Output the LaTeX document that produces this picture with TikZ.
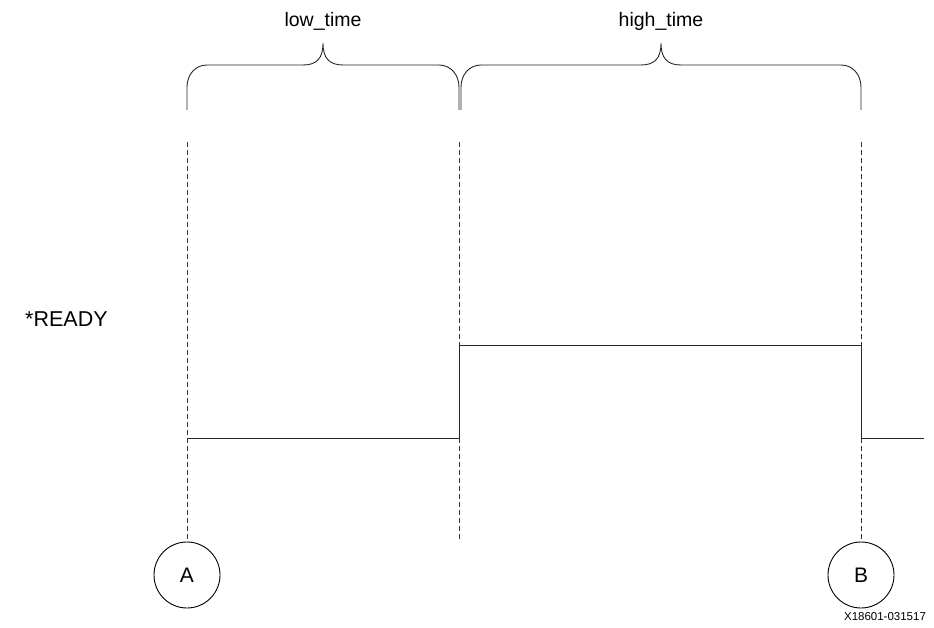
\documentclass[tikz,border=0pt]{standalone}
\usepackage{fontspec}
\setmainfont{Liberation Sans}
\usepackage{tikz}
\usetikzlibrary{positioning,calc}
\tikzset{
    wave/.style   = {line width=0.9pt, draw=black!85},
    guide/.style  = {line width=0.8pt, draw=black!80, dash pattern=on 5pt off 3pt},
    span/.style   = {line width=0.9pt, draw=black!85},
    label/.style  = {inner sep=0pt, font=\fontsize{19.5}{23}\selectfont},
    marker/.style = {circle, draw=black, line width=0.9pt, minimum size=66pt,
            inner sep=0pt, font=\fontsize{21}{24}\selectfont},
}
% curly brace between two x values, legs at 110, bar at 65, tip at 43
\newcommand{\spanbrace}[2]{%
    \draw[span] (#1,110) -- (#1,87) .. controls (#1,75) and ({#1+8},65) .. ({#1+20},65)
        -- ({(#1+#2)/2-20},65) .. controls ({(#1+#2)/2-6},65) and ({(#1+#2)/2},58) .. ({(#1+#2)/2},43)
        .. controls ({(#1+#2)/2},58) and ({(#1+#2)/2+6},65) .. ({(#1+#2)/2+20},65)
        -- ({#2-20},65) .. controls ({#2-8},65) and (#2,75) .. (#2,87) -- (#2,110);}
\begin{document}
\begin{tikzpicture}[x=1pt,y=-1pt]
    \useasboundingbox (0,0) rectangle (934,628);
    % Labels
    \node[label] (low) at (323,21) {low\_time};
    \node[label] (high) at (661,21) {high\_time};
    \node[label, anchor=west, font=\fontsize{21.5}{25}\selectfont] (ready) at (25,319) {*READY};
    \node[inner sep=0pt, font=\fontsize{11.5}{14}\selectfont] (fig) at (885,617) {X18601-031517};
    % Braces
    \spanbrace{187}{459}
    \spanbrace{461}{861}
    % Markers
    \node[marker] (A) at (187,575) {A};
    \node[marker] (B) at (861,575) {B};
    % Guides
    \coordinate (gA) at (187,142);
    \coordinate (gM) at (459,142);
    \coordinate (gMe) at (459,542);
    \coordinate (gB) at (861,142);
    \draw[guide] (gA) -- (A);
    \draw[guide] (gM) -- (gMe);
    \draw[guide] (gB) -- (B);
    % Waveform
    \coordinate (s0) at (187,438);
    \coordinate (s1) at (459,438);
    \coordinate (s2) at (459,345);
    \coordinate (s3) at (861,345);
    \coordinate (s4) at (861,438);
    \coordinate (s5) at (924,438);
    \draw[wave] (s0) -- (s1) -- (s2) -- (s3) -- (s4) -- (s5);
\end{tikzpicture}
\end{document}
